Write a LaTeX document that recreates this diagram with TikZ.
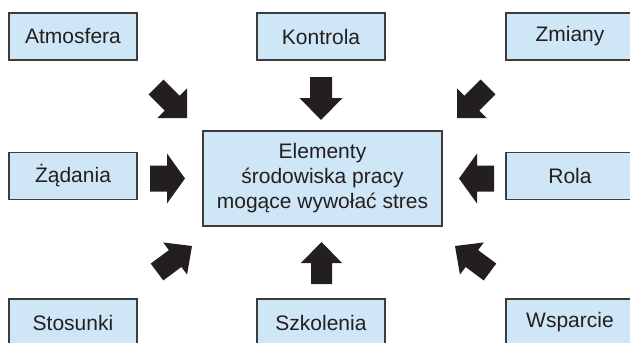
\documentclass[tikz,border=0pt]{standalone}
\usepackage{fontspec}
\setmainfont{Liberation Sans}
\usetikzlibrary{calc}
\definecolor{boxfill}{HTML}{CFE6F7}
\definecolor{boxline}{HTML}{3C3C3C}
\definecolor{ink}{HTML}{231F20}
% name, tail, tip, head length, head half-width, shaft half-width
\newcommand{\blockarrow}[6]{%
  \coordinate (#1-h) at ($(#3)!#4!(#2)$);
  \fill[ink] ($(#2)!#6!90:(#3)$) -- ($(#1-h)!#6!90:(#3)$) -- ($(#1-h)!#5!90:(#3)$) -- (#3)
    -- ($(#1-h)!#5!-90:(#3)$) -- ($(#1-h)!#6!-90:(#3)$) -- ($(#2)!#6!-90:(#3)$) -- cycle;}
\begin{document}
\begin{tikzpicture}[x=1pt,y=-1pt,
  box/.style={draw=boxline, line width=1.2pt, fill=boxfill, text=ink,
    minimum width=128pt, minimum height=47pt, inner sep=0pt,
    font=\fontsize{21}{25}\selectfont},
  bigbox/.style={box, minimum width=239pt, minimum height=95pt, align=center}]
\useasboundingbox (0,0) rectangle (630,343);
\clip (0,0) rectangle (630,343);
\node[box] (atm) at (73,36.5) {Atmosfera};
\node[box] (kon) at (321,36.5) {Kontrola};
\node[box] (zmi) at (570,36.5) {Zmiany};
\node[box] (zad) at (73,176) {Żądania};
\node[box] (rol) at (570,176) {Rola};
\node[box] (sto) at (73,322.5) {Stosunki};
\node[box] (szk) at (321,322.5) {Szkolenia};
\node[box] (wsp) at (570,322.5) {Wsparcie};
\node[bigbox] (el) at (322.5,178.5) {Elementy\\środowiska pracy\\mogące wywołać stres};
% arrow end points
\coordinate (a1t) at (156,87);   \coordinate (a1p) at (187,118);
\coordinate (a2t) at (321,77);   \coordinate (a2p) at (321,120);
\coordinate (a3t) at (488,87);   \coordinate (a3p) at (457,118);
\coordinate (a4t) at (150,178.5);\coordinate (a4p) at (185,178.5);
\coordinate (a5t) at (494,178.5);\coordinate (a5p) at (459,178.5);
\coordinate (a6t) at (157,272);  \coordinate (a6p) at (192,246);
\coordinate (a7t) at (321.5,284);\coordinate (a7p) at (321.5,242);
\coordinate (a8t) at (490,272);  \coordinate (a8p) at (455,246);
\blockarrow{a1}{a1t}{a1p}{21pt}{21pt}{10.5pt}
\blockarrow{a2}{a2t}{a2p}{22pt}{21.5pt}{11pt}
\blockarrow{a3}{a3t}{a3p}{21pt}{21pt}{10.5pt}
\blockarrow{a4}{a4t}{a4p}{18pt}{25pt}{13pt}
\blockarrow{a5}{a5t}{a5p}{18pt}{25pt}{13pt}
\blockarrow{a6}{a6t}{a6p}{21pt}{20pt}{10.5pt}
\blockarrow{a7}{a7t}{a7p}{21pt}{20.5pt}{10.5pt}
\blockarrow{a8}{a8t}{a8p}{21pt}{20pt}{10.5pt}
\end{tikzpicture}
\end{document}
